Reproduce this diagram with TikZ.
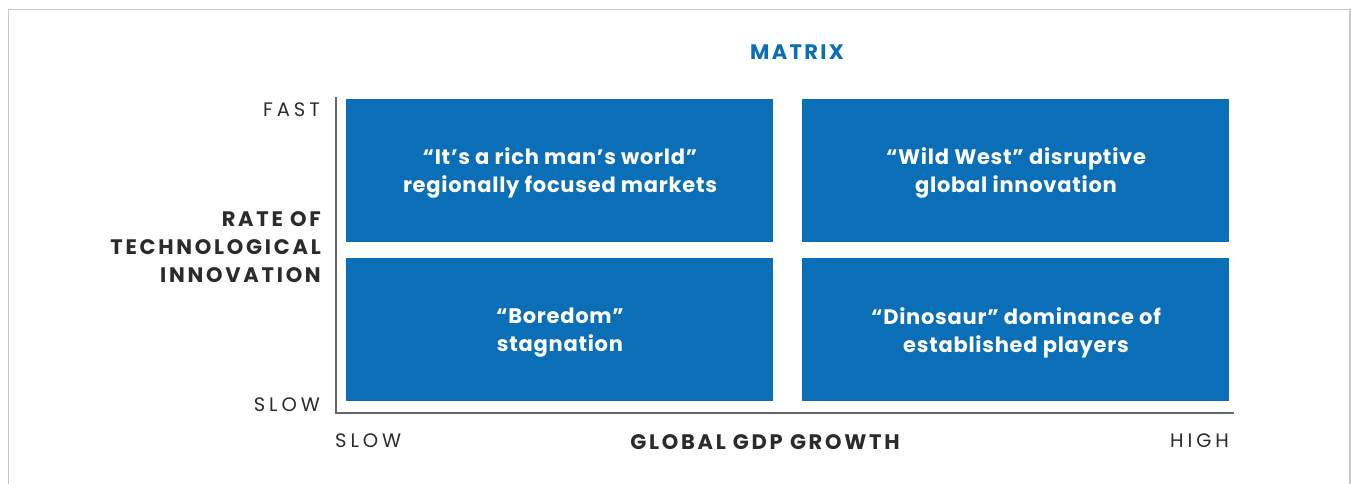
\documentclass[tikz,border=0pt]{standalone}
\usepackage{fontspec}
\setmainfont{Poppins}
\newfontfamily\spaced[LetterSpace=20]{Poppins}
\newfontfamily\wide[LetterSpace=13]{Poppins}
\newfontfamily\titlef[LetterSpace=11]{Poppins}
\newfontfamily\bodyf[LetterSpace=3.5]{Poppins}
\definecolor{qblue}{HTML}{0B6FB8}
\definecolor{qtext}{HTML}{2B2B2B}
\definecolor{qaxis}{HTML}{666666}
\definecolor{qframe}{HTML}{C8C8C8}
\begin{document}
\begin{tikzpicture}[x=1pt,y=-1pt,
  quad/.style={fill=qblue,draw=none,text=white,font=\bodyf\fontsize{21}{28}\selectfont\bfseries,align=center,inner sep=0pt},
  ticklabel/.style={font=\spaced\fontsize{19.5}{20}\selectfont,text=qtext,inner sep=0pt},
  axtitle/.style={font=\wide\fontsize{21}{28}\selectfont\bfseries,text=qtext,inner sep=0pt}]
\useasboundingbox (0,0) rectangle (1351,483);
\draw[qframe,line width=1.5pt] (8.5,490) -- (8.5,9.5) -- (1350,9.5) -- (1350,490);
\fill[qblue] (346,99) rectangle (773,242);
\fill[qblue] (802,99) rectangle (1229,242);
\fill[qblue] (346,258) rectangle (773,400.5);
\fill[qblue] (802,258) rectangle (1229,400.5);
\node[quad] (tl) at (560,172.5) {“It’s a rich man’s world”\\regionally focused markets};
\node[quad] (tr) at (1016,172.5) {“Wild West” disruptive\\global innovation};
\node[quad] (bl) at (560,332.5) {“Boredom”\\stagnation};
\node[quad] (br) at (1016,332.5) {“Dinosaur” dominance of\\established players};
\coordinate (otop) at (335.5,97);
\coordinate (orig) at (335.5,412.5);
\coordinate (xend) at (1234,412.5);
\draw[qaxis,line width=2pt] (otop) -- (orig) -- (xend);
\node[font=\titlef\fontsize{21}{22}\selectfont\bfseries,text=qblue,inner sep=0pt] (title) at (797,52) {MATRIX};
\node[ticklabel,anchor=east] (fast) at (320,110) {FAST};
\node[ticklabel,anchor=east] (slowy) at (320,405) {SLOW};
\node[ticklabel,anchor=west] (slowx) at (335,441) {SLOW};
\node[ticklabel,anchor=east] (high) at (1229,441) {HIGH};
\node[axtitle,anchor=east,align=right] (ytitle) at (321,247) {RATE OF\\TECHNOLOGICAL\\INNOVATION};
\node[axtitle] (xtitle) at (765,442) {GLOBAL GDP GROWTH};
\end{tikzpicture}
\end{document}
